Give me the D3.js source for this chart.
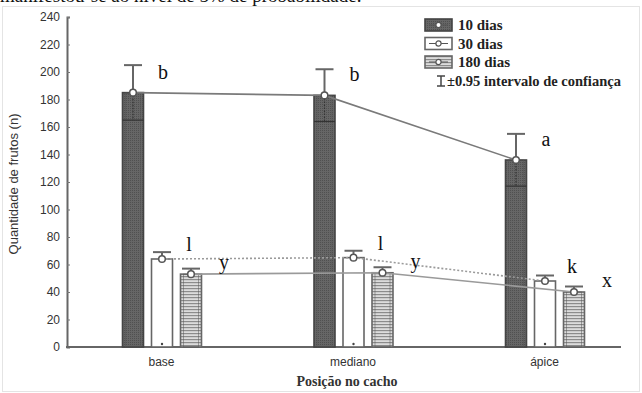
<!DOCTYPE html>
<html><head><meta charset="utf-8">
<script src="https://cdn.jsdelivr.net/npm/d3@7"></script>
<style>body{margin:0;background:#fff}svg{display:block}</style>
</head><body>
<svg id="c" width="642" height="393"></svg>
<script>
const categories = ["base", "mediano", "ápice"];
const seriesNames = ["10 dias", "30 dias", "180 dias"];
const mean10 = [185, 183, 136];
const ci10 = [20, 19, 19];
const mean30 = [64, 65, 48];
const ci30 = [5, 5, 4];
const mean180 = [53, 54, 40];
const ci180 = [4, 4, 4];
const letters10 = ["b", "b", "a"];
const letters30 = ["l", "l", "k"];
const letters180 = ["y", "y", "x"];
const yTicks = [0, 20, 40, 60, 80, 100, 120, 140, 160, 180, 200, 220, 240];

const svg = d3.select("#c");
const defs = svg.append("defs");
const hp = defs.append("pattern").attr("id", "hatch").attr("patternUnits", "userSpaceOnUse").attr("width", 4).attr("height", 3);
hp.append("rect").attr("width", 4).attr("height", 3).attr("fill", "#dcdcdc");
hp.append("rect").attr("width", 4).attr("height", 1.2).attr("fill", "#8c8c8c");
const dp = defs.append("pattern").attr("id", "dark").attr("patternUnits", "userSpaceOnUse").attr("width", 2).attr("height", 2);
dp.append("rect").attr("width", 2).attr("height", 2).attr("fill", "#666");
dp.append("rect").attr("width", 1).attr("height", 1).attr("fill", "#505050");

// frame
svg.append("rect").attr("x", 2.5).attr("y", 6.5).attr("width", 637).attr("height", 385)
  .attr("fill", "none").attr("stroke", "#e4e4e4");

// clipped caption line at top (cut off in the reference as well)
svg.append("text").attr("x", 0).attr("y", 2).attr("font-family", "Liberation Serif, Times New Roman, serif")
  .attr("font-size", 19).attr("fill", "#111").text("manifestou-se ao nível de 5% de probabilidade.");

const y = d3.scaleLinear().domain([0, 240]).range([347, 17]);
const x = d3.scalePoint().domain(categories).range([162, 545]);
const off = 29, bw = 21;

// y axis
const yAxis = svg.append("g").attr("transform", "translate(67,0)")
  .call(d3.axisLeft(y).tickValues(yTicks).tickSize(-3).tickPadding(7));
yAxis.select(".domain").attr("stroke", "#666").attr("stroke-width", 2);
yAxis.selectAll(".tick line").attr("stroke", "#777");
yAxis.selectAll(".tick text").attr("font-family", "Liberation Sans, Arial, sans-serif")
  .attr("font-size", 12).attr("fill", "#333");

// x axis
svg.append("line").attr("x1", 66).attr("x2", 621).attr("y1", 347).attr("y2", 347)
  .attr("stroke", "#666").attr("stroke-width", 2);
const xAxis = svg.append("g").attr("transform", "translate(0,347)")
  .call(d3.axisBottom(x).tickSize(0).tickPadding(10));
xAxis.select(".domain").remove();
xAxis.selectAll(".tick text").attr("font-family", "Liberation Sans, Arial, sans-serif")
  .attr("font-size", 12).attr("fill", "#333").attr("dx", -1);

svg.append("text").attr("transform", "translate(18,184) rotate(-90)").attr("text-anchor", "middle")
  .attr("font-family", "Liberation Sans, Arial, sans-serif").attr("font-size", 13).attr("fill", "#333")
  .text("Quantidade de frutos (n)");
svg.append("text").attr("x", 347).attr("y", 386).attr("text-anchor", "middle")
  .attr("font-family", "Liberation Serif, Times New Roman, serif").attr("font-size", 14)
  .attr("font-weight", "bold").attr("fill", "#333").text("Posição no cacho");

const series = [
  {name: seriesNames[0], mean: mean10, ci: ci10, letters: letters10, dx: -off, fill: "url(#dark)", stroke: "#444", line: "#7a7a7a", dash: null, lx: 30, ly: -14},
  {name: seriesNames[1], mean: mean30, ci: ci30, letters: letters30, dx: 0, fill: "#fff", stroke: "#666", line: "#9a9a9a", dash: "2,2", lx: 27, ly: -8},
  {name: seriesNames[2], mean: mean180, ci: ci180, letters: letters180, dx: off, fill: "url(#hatch)", stroke: "#666", line: "#9a9a9a", dash: null, lx: 33, ly: -5}
];

// bars
series.forEach((s, si) => {
  const g = svg.append("g");
  categories.forEach((c, i) => {
    const cx = x(c) + s.dx;
    const top = y(s.mean[i]);
    g.append("rect").attr("x", cx - bw / 2).attr("y", top).attr("width", bw).attr("height", y(0) - top)
      .attr("fill", s.fill).attr("stroke", s.stroke).attr("stroke-width", 1.6);
    if (si !== 1) {
      g.append("rect").attr("x", cx - bw / 2 + 3).attr("y", top).attr("width", bw - 6).attr("height", y(0) - top)
        .attr("fill", "none").attr("stroke", "#555").attr("stroke-width", 0.8).attr("opacity", 0.6);
    }
    if (si === 1) {
      g.append("circle").attr("cx", cx).attr("cy", y(0) - 3).attr("r", 1.2).attr("fill", "#444");
    }
    if (si === 0) {
      // lower CI inside bar
      g.append("line").attr("x1", cx).attr("x2", cx).attr("y1", top).attr("y2", y(s.mean[i] - s.ci[i]))
        .attr("stroke", "#333").attr("stroke-width", 1.2).attr("stroke-dasharray", "1.5,1.5");
      g.append("line").attr("x1", cx - bw / 2).attr("x2", cx + bw / 2)
        .attr("y1", y(s.mean[i] - s.ci[i])).attr("y2", y(s.mean[i] - s.ci[i]))
        .attr("stroke", "#333").attr("stroke-width", 1.2);
    }
    // upper CI
    g.append("line").attr("x1", cx).attr("x2", cx).attr("y1", top).attr("y2", y(s.mean[i] + s.ci[i]))
      .attr("stroke", "#666").attr("stroke-width", 2);
    g.append("line").attr("x1", cx - 9).attr("x2", cx + 9)
      .attr("y1", y(s.mean[i] + s.ci[i])).attr("y2", y(s.mean[i] + s.ci[i]))
      .attr("stroke", "#666").attr("stroke-width", 2);
  });
});

// connecting lines
series.forEach(s => {
  const line = d3.line().x((d, i) => x(categories[i]) + s.dx).y(d => y(d));
  svg.append("path").datum(s.mean).attr("d", line).attr("fill", "none")
    .attr("stroke", s.line).attr("stroke-width", 1.6).attr("stroke-dasharray", s.dash);
});

// points and letters
series.forEach(s => {
  categories.forEach((c, i) => {
    const cx = x(c) + s.dx;
    svg.append("circle").attr("cx", cx).attr("cy", y(s.mean[i])).attr("r", 3.3)
      .attr("fill", "#fff").attr("stroke", "#555").attr("stroke-width", 1.5);
    svg.append("text").attr("x", cx + s.lx).attr("y", y(s.mean[i]) + s.ly)
      .attr("text-anchor", "middle").attr("font-family", "Liberation Serif, Times New Roman, serif")
      .attr("font-size", 20).attr("fill", "#111").text(s.letters[i]);
  });
});

// legend
const lg = svg.append("g").attr("transform", "translate(425,25)");
const fonts = "Liberation Serif, Times New Roman, serif";
series.forEach((s, i) => {
  const row = lg.append("g").attr("transform", `translate(0,${i * 18.5})`);
  row.append("rect").attr("x", 0).attr("y", -6).attr("width", 27).attr("height", 12)
    .attr("fill", s.fill).attr("stroke", s.stroke).attr("stroke-width", 1.6);
  row.append("line").attr("x1", 4).attr("x2", 23).attr("y1", 0).attr("y2", 0).attr("stroke", "#555").attr("stroke-width", 1);
  row.append("circle").attr("cx", 13.5).attr("cy", 0).attr("r", 2.6).attr("fill", "#fff").attr("stroke", "#555").attr("stroke-width", 1.2);
  row.append("text").attr("x", 33).attr("y", 5).attr("font-family", fonts).attr("font-size", 15)
    .attr("font-weight", "bold").attr("fill", "#222").text(s.name);
});
const ci = lg.append("g").attr("transform", "translate(0,56)");
ci.append("line").attr("x1", 16).attr("x2", 16).attr("y1", -5).attr("y2", 5).attr("stroke", "#444").attr("stroke-width", 1.5);
ci.append("line").attr("x1", 12).attr("x2", 20).attr("y1", -5).attr("y2", -5).attr("stroke", "#444").attr("stroke-width", 1.5);
ci.append("line").attr("x1", 12).attr("x2", 20).attr("y1", 5).attr("y2", 5).attr("stroke", "#444").attr("stroke-width", 1.5);
ci.append("text").attr("x", 22).attr("y", 5).attr("font-family", fonts).attr("font-size", 14.5)
  .attr("font-weight", "bold").attr("fill", "#222").text("±0.95 intervalo de confiança");
</script>
</body></html>
